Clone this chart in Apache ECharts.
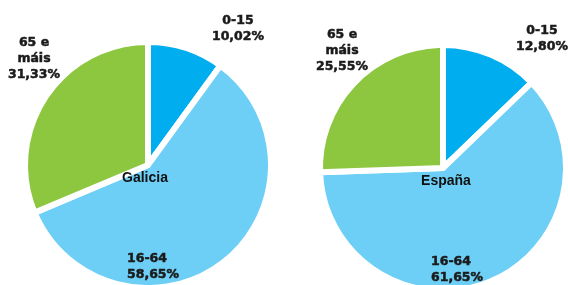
<!DOCTYPE html>
<html>
<head>
<meta charset="utf-8">
<script src="https://cdn.jsdelivr.net/npm/echarts@6/dist/echarts.min.js"></script>
<style>html,body{margin:0;padding:0;background:#fff}#c{width:568px;height:285px}</style>
</head>
<body>
<div id="c"></div>
<script>
const categories = ['0-15', '16-64', '65 e\nmáis'];
const regions = ['Galicia', 'España'];
const galiciaValues = [10.02, 58.65, 31.33];
const espanaValues = [12.80, 61.65, 25.55];
const colors = ['#00aeef', '#6dcff6', '#8dc63f'];

const chart = echarts.init(document.getElementById('c'), null, {renderer: 'canvas'});

const centers = [[148, 165], [443, 168]];
const labelPos = [
  [{x: 238, y: 29, align: 'center'}, {x: 127, y: 266.5, align: 'left'}, {x: 34, y: 58.5, align: 'center'}],
  [{x: 542, y: 39, align: 'center'}, {x: 431, y: 270, align: 'left'}, {x: 342, y: 50.5, align: 'center'}]
];
const titlePos = [[145, 178], [446, 181]];

function fmt(v) { return v.toFixed(2).replace('.', ',') + '%'; }

function makeSeries(idx, values) {
  return {
    type: 'pie',
    center: centers[idx],
    radius: [0, 123],
    startAngle: 90,
    clockwise: true,
    animation: false,
    silent: true,
    avoidLabelOverlap: false,
    itemStyle: {borderColor: '#ffffff', borderWidth: 6},
    label: {
      show: true,
      position: 'outside',
      alignTo: 'none',
      overflow: 'none',
      formatter: p => p.name + '\n' + fmt(p.value),
      fontFamily: 'DejaVu Sans',
      fontWeight: 'bold',
      fontSize: 12.5,
      lineHeight: 16,
      color: '#1a1a1a',
      textBorderColor: '#1a1a1a',
      textBorderWidth: 0.5
    },
    labelLine: {show: false},
    labelLayout: p => {
      const lp = labelPos[idx][p.dataIndex];
      return {x: lp.x, y: lp.y, align: lp.align, verticalAlign: 'middle', hideOverlap: false};
    },
    data: categories.map((c, i) => ({name: c, value: values[i], itemStyle: {color: colors[i]}}))
  };
}

chart.setOption({
  backgroundColor: '#ffffff',
  series: [makeSeries(0, galiciaValues), makeSeries(1, espanaValues)],
  graphic: regions.map((r, i) => ({
    type: 'text',
    x: titlePos[i][0],
    y: titlePos[i][1],
    z: 100,
    style: {
      text: r,
      fontFamily: 'Liberation Sans',
      fontWeight: 'bold',
      fontSize: 14,
      fill: '#111111',
      align: 'center',
      verticalAlign: 'middle'
    }
  }))
});
</script>
</body>
</html>
